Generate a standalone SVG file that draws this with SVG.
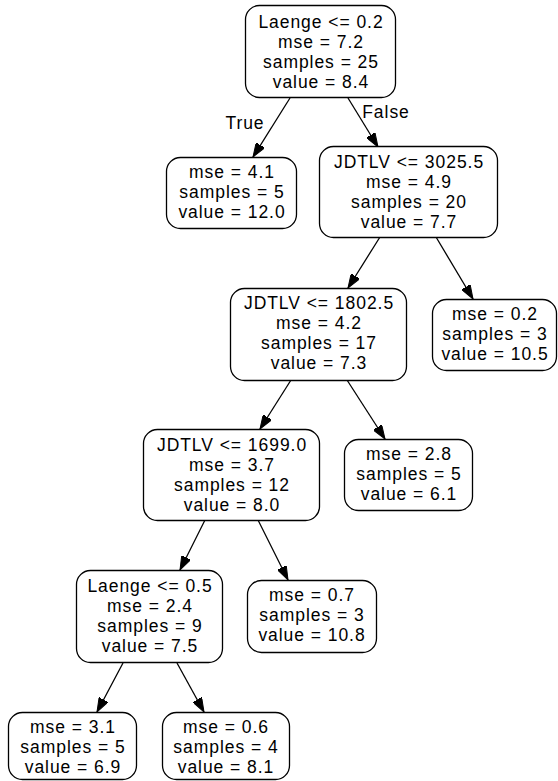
<svg xmlns="http://www.w3.org/2000/svg" width="558" height="781" viewBox="0 0 558 781">
  <style>
    text { font-family: "Liberation Sans", Arial, sans-serif; font-size: 17.5px; letter-spacing: 0.95px; fill: #000; text-anchor: middle; }
    .box { fill: #fff; stroke: #000; stroke-width: 1.3; }
    .edge { stroke: #000; stroke-width: 1.3; fill: none; marker-end: url(#arrow); }
  </style>
  <defs>
    <marker id="arrow" markerUnits="userSpaceOnUse" viewBox="0 -5 14 10" refX="14" refY="0" markerWidth="14" markerHeight="10" orient="auto">
      <path d="M0,-5 L14,0 L0,5 Z" fill="#000" stroke="#000" stroke-width="1"/>
    </marker>
  </defs>
  <rect width="558" height="781" fill="#fff"/>

  <!-- connectors -->
  <g id="edges">
    <line class="edge" x1="290" y1="98" x2="253" y2="157"/>
    <line class="edge" x1="348" y1="98" x2="378" y2="147"/>
    <line class="edge" x1="380" y1="237" x2="348" y2="288"/>
    <line class="edge" x1="436" y1="237" x2="473" y2="299"/>
    <line class="edge" x1="291" y1="380" x2="260" y2="429"/>
    <line class="edge" x1="347" y1="380" x2="385" y2="439"/>
    <line class="edge" x1="205" y1="520" x2="180" y2="570"/>
    <line class="edge" x1="258" y1="520" x2="288" y2="580"/>
    <line class="edge" x1="123" y1="663" x2="97" y2="712"/>
    <line class="edge" x1="177" y1="663" x2="204" y2="712"/>
    <text x="245" y="129">True</text>
    <text x="386" y="118">False</text>
  </g>

  <g id="node0">
    <rect class="box" x="245.5" y="5.5" width="150" height="92" rx="14"/>
    <text x="321" y="27.5">Laenge &lt;= 0.2</text>
    <text x="321" y="47.5">mse = 7.2</text>
    <text x="321" y="67.5">samples = 25</text>
    <text x="321" y="87.5">value = 8.4</text>
  </g>

  <g id="node1">
    <rect class="box" x="166.5" y="157.5" width="130" height="71" rx="14"/>
    <text x="232" y="177.5">mse = 4.1</text>
    <text x="232" y="197.5">samples = 5</text>
    <text x="232" y="217.5">value = 12.0</text>
  </g>

  <g id="node2">
    <rect class="box" x="319.5" y="146.5" width="178" height="91" rx="14"/>
    <text x="409" y="167.5">JDTLV &lt;= 3025.5</text>
    <text x="409" y="187.5">mse = 4.9</text>
    <text x="409" y="207.5">samples = 20</text>
    <text x="409" y="227.5">value = 7.7</text>
  </g>

  <g id="node3">
    <rect class="box" x="230.5" y="288.5" width="176" height="92" rx="14"/>
    <text x="319" y="308.5">JDTLV &lt;= 1802.5</text>
    <text x="319" y="328.5">mse = 4.2</text>
    <text x="319" y="348.5">samples = 17</text>
    <text x="319" y="368.5">value = 7.3</text>
  </g>

  <g id="node4">
    <rect class="box" x="432.5" y="299.5" width="124" height="71" rx="14"/>
    <text x="495" y="319.5">mse = 0.2</text>
    <text x="495" y="339.5">samples = 3</text>
    <text x="495" y="359.5">value = 10.5</text>
  </g>

  <g id="node5">
    <rect class="box" x="143.5" y="429.5" width="176" height="91" rx="14"/>
    <text x="232" y="450.5">JDTLV &lt;= 1699.0</text>
    <text x="232" y="470.5">mse = 3.7</text>
    <text x="232" y="490.5">samples = 12</text>
    <text x="232" y="510.5">value = 8.0</text>
  </g>

  <g id="node6">
    <rect class="box" x="344.5" y="439.5" width="128" height="71" rx="14"/>
    <text x="409" y="459.5">mse = 2.8</text>
    <text x="409" y="479.5">samples = 5</text>
    <text x="409" y="499.5">value = 6.1</text>
  </g>

  <g id="node7">
    <rect class="box" x="76.5" y="570.5" width="146" height="92" rx="14"/>
    <text x="150" y="591.5">Laenge &lt;= 0.5</text>
    <text x="150" y="611.5">mse = 2.4</text>
    <text x="150" y="631.5">samples = 9</text>
    <text x="150" y="651.5">value = 7.5</text>
  </g>

  <g id="node8">
    <rect class="box" x="247.5" y="580.5" width="129" height="72" rx="14"/>
    <text x="312" y="600.5">mse = 0.7</text>
    <text x="312" y="620.5">samples = 3</text>
    <text x="312" y="640.5">value = 10.8</text>
  </g>

  <g id="node9">
    <rect class="box" x="8.5" y="712.5" width="128" height="67" rx="14"/>
    <text x="73" y="732.5">mse = 3.1</text>
    <text x="73" y="752.5">samples = 5</text>
    <text x="73" y="772.5">value = 6.9</text>
  </g>

  <g id="node10">
    <rect class="box" x="162.5" y="712.5" width="127" height="67" rx="14"/>
    <text x="226" y="732.5">mse = 0.6</text>
    <text x="226" y="752.5">samples = 4</text>
    <text x="226" y="772.5">value = 8.1</text>
  </g>
</svg>
